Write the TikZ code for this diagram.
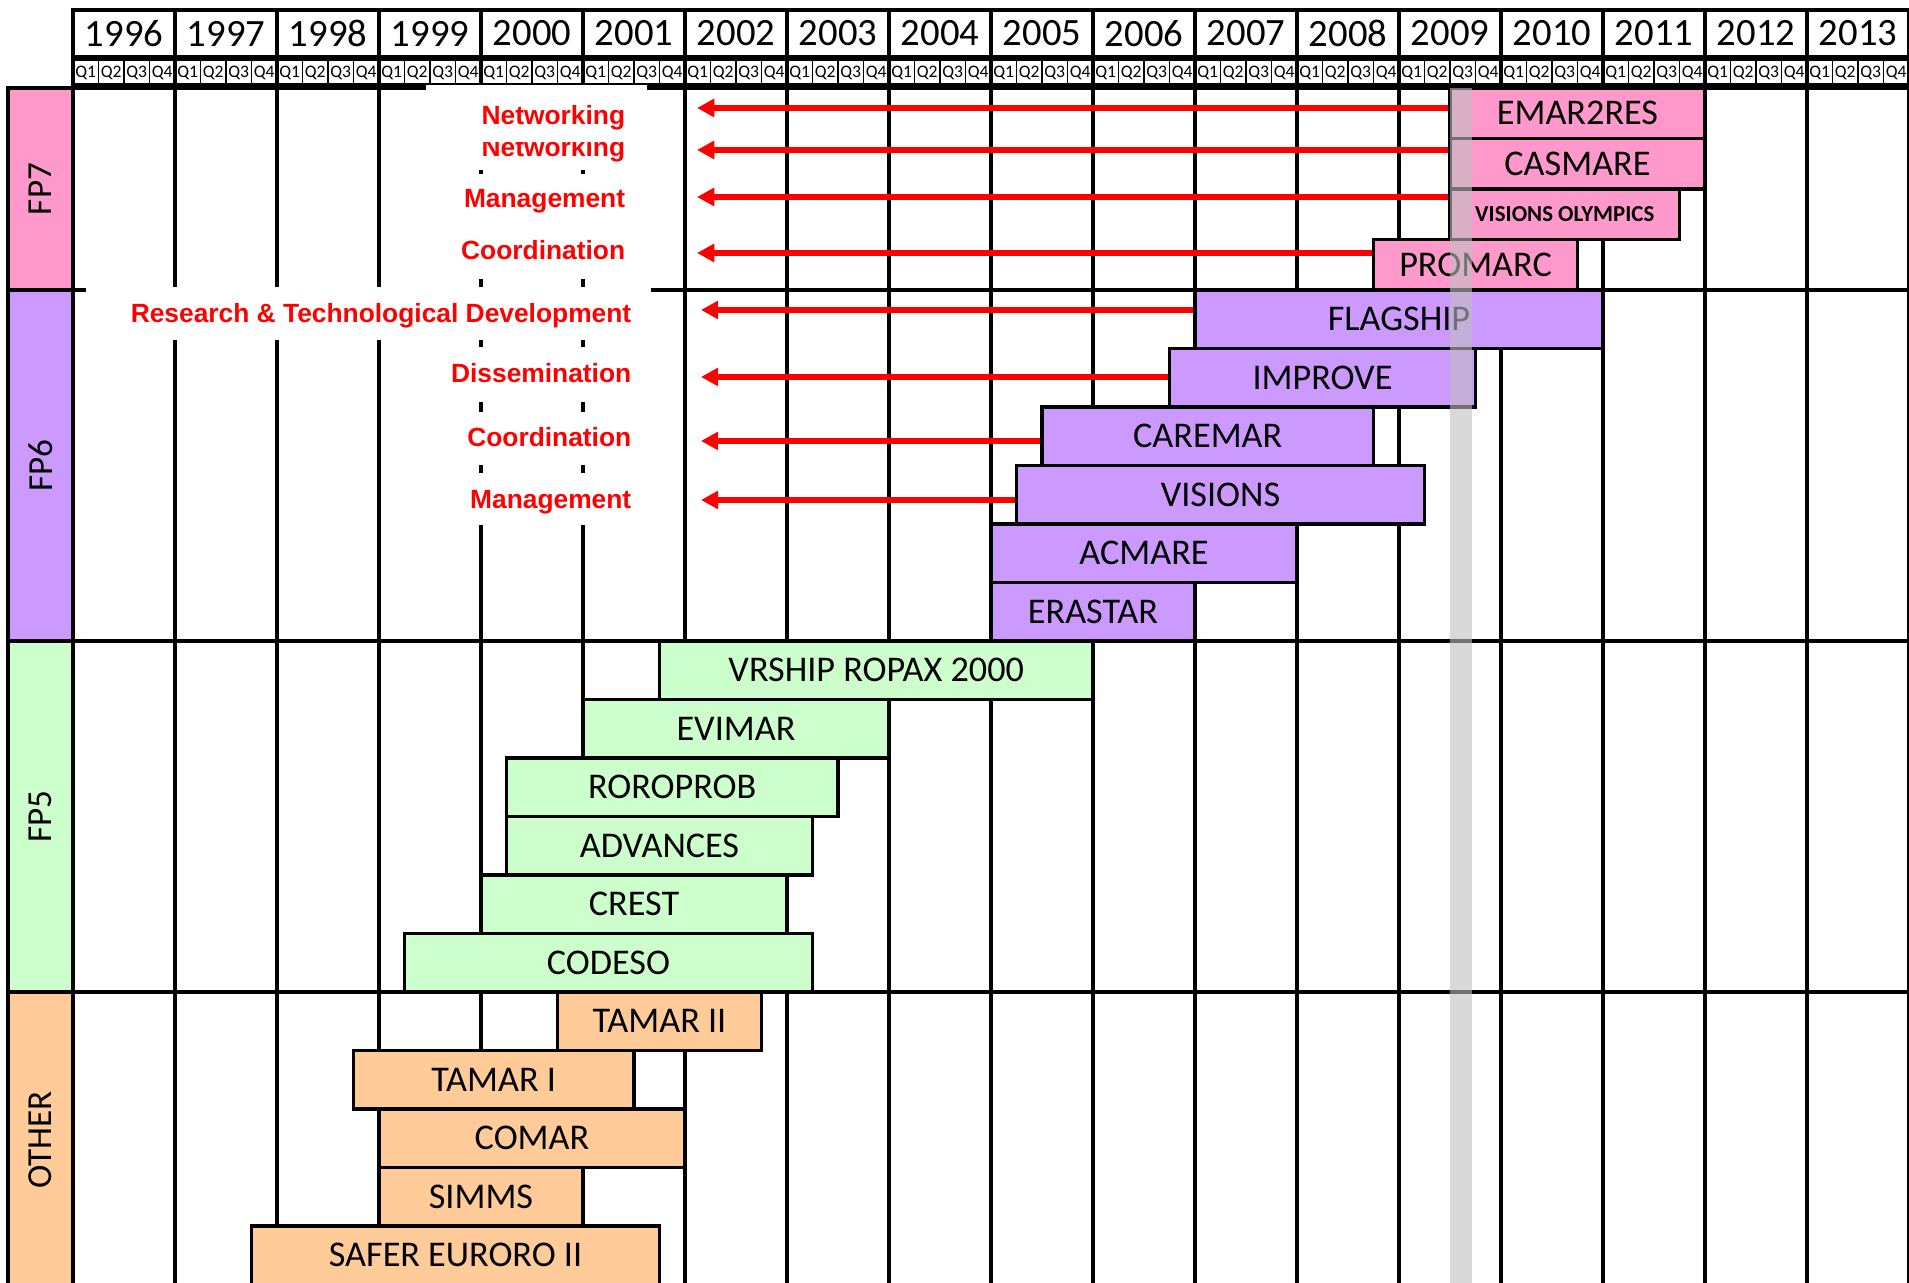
\documentclass[tikz,border=0pt]{standalone}
\usepackage{fontspec}
\setmainfont{Carlito}
\newfontfamily\redfont{Liberation Sans}
\usetikzlibrary{arrows.meta,fit}

\definecolor{fpseven}{HTML}{FF99CC}
\definecolor{fpsix}{HTML}{CC99FF}
\definecolor{fpfive}{HTML}{CCFFCC}
\definecolor{fpother}{HTML}{FFCC99}
\definecolor{bandgray}{HTML}{BFBFBF}

\begin{document}
\begin{tikzpicture}[x=1.02cm,y=-1cm,
    grid/.style={line width=0.9pt},
    bar/.style={draw,line width=0.9pt,inner sep=0pt},
    every label/.style={inner sep=0pt,font=\fontsize{10.3}{12}\selectfont},
    lbl/.style={red,inner sep=0pt,anchor=base east,font=\redfont\bfseries\fontsize{7.5}{9}\selectfont},
    arr/.style={red,line width=1.7pt,-{Triangle[length=4.9pt,width=5pt]}}]
  \useasboundingbox (-0.7157,-0.88) rectangle (18,11.95);

  % grid
  \foreach \i in {0,...,18}
    \draw[grid] (\i,0) -- (\i,12.2);
  \foreach \j in {0,2.02,5.53,9.04}
    \draw[grid] (-0.637,\j) -- (18.2,\j);

  % years and quarters
  \foreach \yr [count=\i from 0] in {1996,...,2013} {
    \draw[grid] (\i,-0.78) rectangle (\i+1,-0.315);
    \node[font=\fontsize{11}{13}\selectfont] (y\yr) at (\i+0.5,-0.545) {\yr};
    \draw[grid] (\i,-0.285) rectangle (\i+1,-0.03);
    \foreach \q in {1,2,3}
      \draw[line width=0.45pt] (\i+\q/4,-0.285) -- (\i+\q/4,-0.03);
    \foreach \q in {1,...,4}
      \node[inner sep=0pt,font=\fontsize{5}{6}\selectfont] (q\yr\q) at (\i+\q/4-0.125,-0.155) {Q\q};
  }

  % programmes
  \draw[grid,fill=fpseven] (-0.637,0) rectangle (0,2.02) node[midway,rotate=90] (fp7) {FP7};
  \draw[grid,fill=fpsix] (-0.637,2.02) rectangle (0,5.53) node[midway,rotate=90] (fp6) {FP6};
  \draw[grid,fill=fpfive] (-0.637,5.53) rectangle (0,9.04) node[midway,rotate=90] (fp5) {FP5};
  \draw[grid,fill=fpother] (-0.637,9.04) rectangle (0,12) node[midway,rotate=90] (other) {OTHER};

  % labels
  \fill[white] (3.46,0.54) rectangle (5.63,0.82);
  \node[lbl] (nwtwo) at (5.42,0.69) {Networking};
  \fill[white] (3.46,-0.025) rectangle (5.63,0.54);
  \node[lbl] (nwone) at (5.42,0.37) {Networking};
  \fill[white] (3.46,0.86) rectangle (5.63,1.91);
  \node[lbl] (mgmtseven) at (5.42,1.20) {Management};
  \node[lbl] (coordseven) at (5.42,1.72) {Coordination};
  \fill[white] (0.127,1.99) rectangle (5.667,2.52);
  \node[lbl] (rtd) at (5.48,2.35) {Research \& Technological Development};
  \fill[white] (3.6,2.59) rectangle (5.667,3.14);
  \node[lbl] (diss) at (5.48,2.95) {Dissemination};
  \fill[white] (3.6,3.24) rectangle (5.667,3.77);
  \node[lbl] (coordsix) at (5.48,3.59) {Coordination};
  \fill[white] (3.6,3.85) rectangle (5.667,4.37);
  \node[lbl] (mgmtsix) at (5.48,4.21) {Management};

  % FP7
  \node[bar,fill=fpseven,fit={(13.5,0) (16,0.505)},label=center:EMAR2RES] (emar2res) {};
  \node[bar,fill=fpseven,fit={(13.5,0.505) (16,1.01)},label=center:CASMARE] (casmare) {};
  \node[bar,fill=fpseven,fit={(13.5,1.01) (15.75,1.515)},
        label={[font=\bfseries\fontsize{6.5}{8}\selectfont]center:VISIONS OLYMPICS}] (visolymp) {};
  \node[bar,fill=fpseven,fit={(12.75,1.515) (14.75,2.02)},label=center:PROMARC] (promarc) {};
  % FP6
  \node[bar,fill=fpsix,fit={(11,2.02) (15,2.605)},label=center:FLAGSHIP] (flagship) {};
  \node[bar,fill=fpsix,fit={(10.75,2.605) (13.75,3.19)},label=center:IMPROVE] (improve) {};
  \node[bar,fill=fpsix,fit={(9.5,3.19) (12.75,3.775)},label=center:CAREMAR] (caremar) {};
  \node[bar,fill=fpsix,fit={(9.25,3.775) (13.25,4.36)},label=center:VISIONS] (visions) {};
  \node[bar,fill=fpsix,fit={(9,4.36) (12,4.945)},label=center:ACMARE] (acmare) {};
  \node[bar,fill=fpsix,fit={(9,4.945) (11,5.53)},label=center:ERASTAR] (erastar) {};
  % FP5
  \node[bar,fill=fpfive,fit={(5.75,5.53) (10,6.115)},label=center:VRSHIP ROPAX 2000] (vrship) {};
  \node[bar,fill=fpfive,fit={(5,6.115) (8,6.7)},label=center:EVIMAR] (evimar) {};
  \node[bar,fill=fpfive,fit={(4.25,6.7) (7.5,7.285)},label=center:ROROPROB] (roroprob) {};
  \node[bar,fill=fpfive,fit={(4.25,7.285) (7.25,7.87)},label=center:ADVANCES] (advances) {};
  \node[bar,fill=fpfive,fit={(4,7.87) (7,8.455)},label=center:CREST] (crest) {};
  \node[bar,fill=fpfive,fit={(3.25,8.455) (7.25,9.04)},label=center:CODESO] (codeso) {};
  % other
  \node[bar,fill=fpother,fit={(4.75,9.04) (6.75,9.625)},label=center:TAMAR II] (tamartwo) {};
  \node[bar,fill=fpother,fit={(2.75,9.625) (5.5,10.21)},label=center:TAMAR I] (tamarone) {};
  \node[bar,fill=fpother,fit={(3,10.21) (6,10.795)},label=center:COMAR] (comar) {};
  \node[bar,fill=fpother,fit={(3,10.795) (5,11.38)},label=center:SIMMS] (simms) {};
  \node[bar,fill=fpother,fit={(1.75,11.38) (5.75,11.965)},label=center:SAFER EURORO II] (safer) {};

  % arrows
  \coordinate (tipone) at (6.118,0.20);
  \coordinate (tiptwo) at (6.118,0.62);
  \coordinate (tipthree) at (6.118,1.09);
  \coordinate (tipfour) at (6.118,1.65);
  \coordinate (tipfive) at (6.157,2.22);
  \coordinate (tipsix) at (6.157,2.89);
  \coordinate (tipseven) at (6.157,3.53);
  \coordinate (tipeight) at (6.157,4.12);
  \draw[arr] (emar2res.west |- tipone) -- (tipone);
  \draw[arr] (casmare.west |- tiptwo) -- (tiptwo);
  \draw[arr] (visolymp.west |- tipthree) -- (tipthree);
  \draw[arr] (promarc.west |- tipfour) -- (tipfour);
  \draw[arr] (flagship.west |- tipfive) -- (tipfive);
  \draw[arr] (improve.west |- tipsix) -- (tipsix);
  \draw[arr] (caremar.west |- tipseven) -- (tipseven);
  \draw[arr] (visions.west |- tipeight) -- (tipeight);

  % now
  \fill[bandgray,opacity=0.6] (13.5,0) rectangle (13.716,12.2);
\end{tikzpicture}
\end{document}
